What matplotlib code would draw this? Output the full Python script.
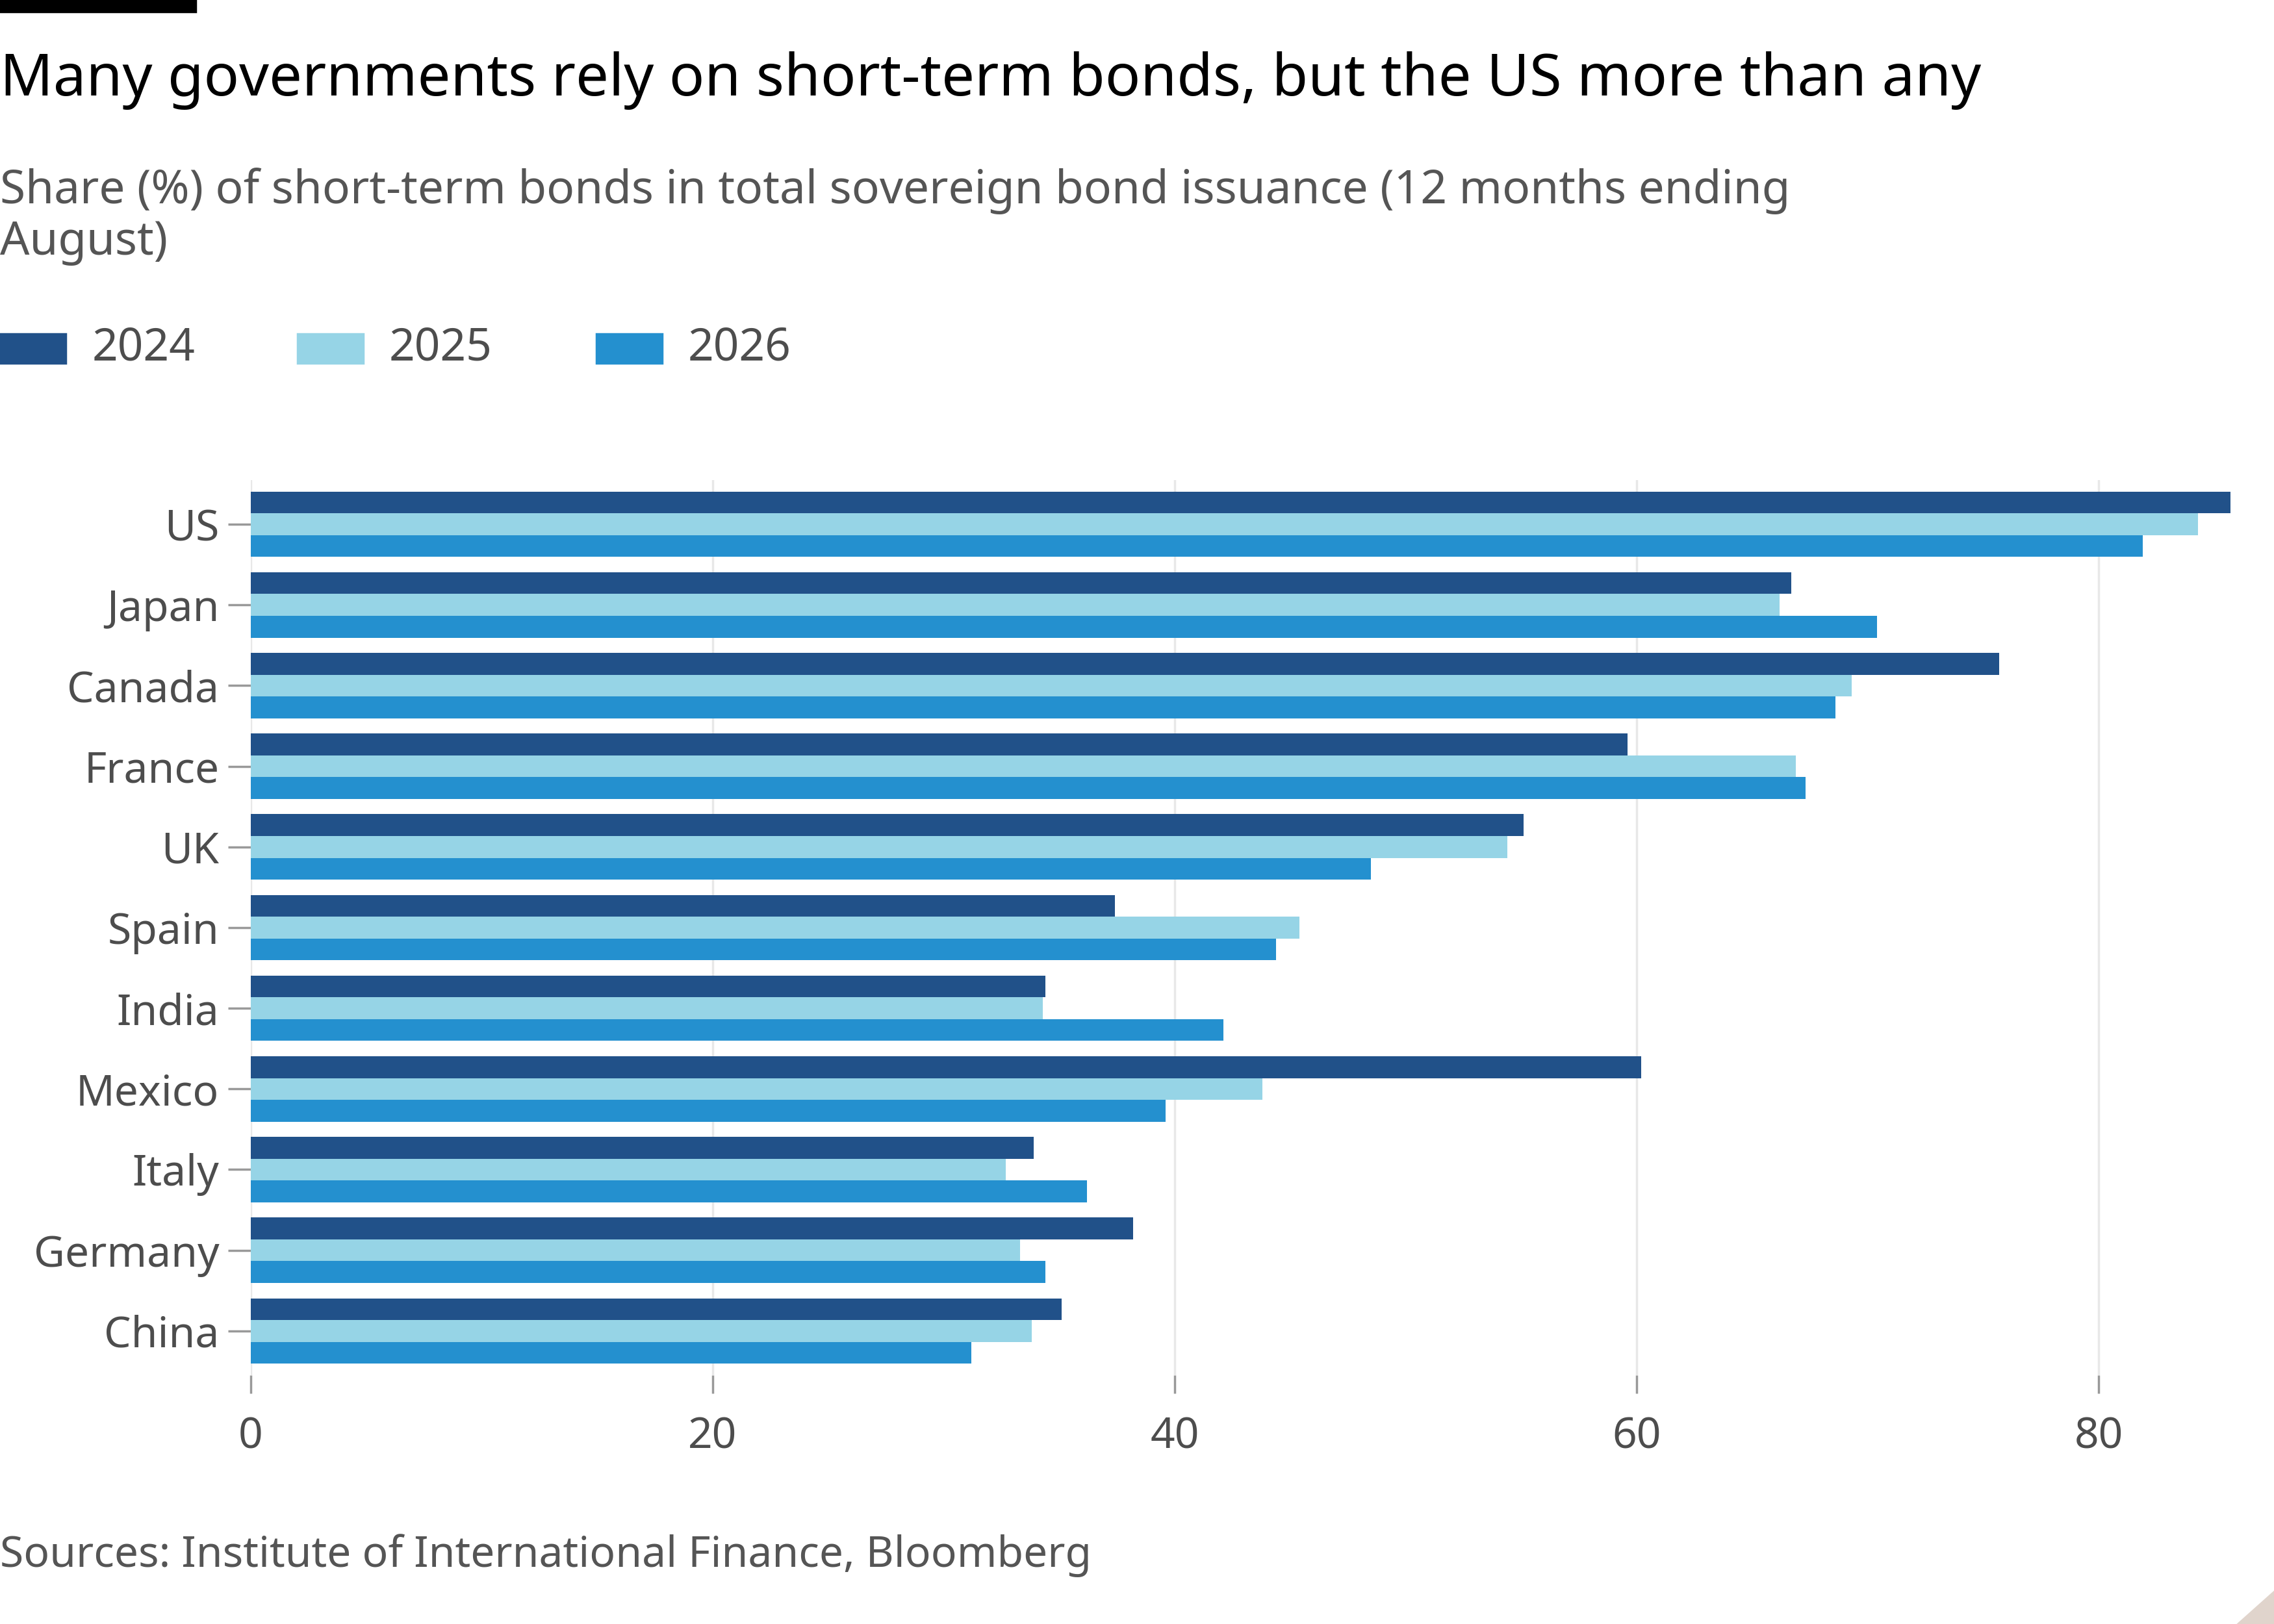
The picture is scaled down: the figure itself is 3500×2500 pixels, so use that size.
import matplotlib
matplotlib.use("Agg")
import matplotlib.pyplot as plt
import numpy as np
from matplotlib.patches import Rectangle, Polygon

plt.rcParams['font.family'] = ['Noto Sans', 'DejaVu Sans']

countries = ["US", "Japan", "Canada", "France", "UK", "Spain", "India", "Mexico", "Italy", "Germany", "China"]
v2024 = [85.7, 66.7, 75.7, 59.6, 55.1, 37.4, 34.4, 60.2, 33.9, 38.2, 35.1]
v2025 = [84.3, 66.2, 69.3, 66.9, 54.4, 45.4, 34.3, 43.8, 32.7, 33.3, 33.8]
v2026 = [81.9, 70.4, 68.6, 67.3, 48.5, 44.4, 42.1, 39.6, 36.2, 34.4, 31.2]
years = ["2024", "2025", "2026"]
colors = ["#215189", "#96d4e6", "#2490cf"]

W, H = 1560, 1110
fig = plt.figure(figsize=(14, 10), dpi=250)
fig.patch.set_facecolor("white")
ax = fig.add_axes([172/W, 1-940/H, (1530-172)/W, (940-328)/H])

y = np.arange(len(countries))
h = 0.27
for i, (vals, c) in enumerate(zip([v2024, v2025, v2026], colors)):
    ax.barh(y + (i-1)*h, vals, height=h, color=c, label=years[i], zorder=3)
ax.set_ylim(len(countries)-0.5+0.05, -0.5-0.05)
ax.set_xlim(0, 85.7)
ax.set_yticks(y)
ax.set_yticklabels(countries, fontsize=19, color="#4d4d4d")
ax.set_xticks([0, 20, 40, 60, 80])
ax.set_xticklabels(["0", "20", "40", "60", "80"], fontsize=19, color="#4d4d4d")
ax.tick_params(axis='y', length=10, width=1, color="#999999", pad=4)
ax.tick_params(axis='x', length=8, width=1, color="#999999", pad=10)
ax.grid(axis='x', color="#e8e8e8", lw=1, zorder=0)
for s in ax.spines.values():
    s.set_visible(False)

fig.patches.append(Rectangle((0, 1-8/H), 134/W, 8/H, transform=fig.transFigure, color="black"))
fig.text(0, 1-55/H, "Many governments rely on short-term bonds, but the US more than any",
         fontsize=26, color="black", va="center")
fig.text(0, 1-148/H, "Share (%) of short-term bonds in total sovereign bond issuance (12 months ending\nAugust)",
         fontsize=20.5, color="#555555", va="center", linespacing=1.15)
lx = [0, 204, 409]
for x0, c, t in zip(lx, colors, years):
    fig.patches.append(Rectangle((x0/W, 1-248/H), 45/W, 20/H, transform=fig.transFigure, color=c))
    fig.text((x0+63)/W, 1-238/H, t, fontsize=20, color="#4d4d4d", va="center")
fig.text(0, 1-1063/H, "Sources: Institute of International Finance, Bloomberg", fontsize=19,
         color="#555555", va="center")
fig.patches.append(Polygon([(1, 1-1088/H), (1, 0), (1535/W, 0)], closed=True,
                           transform=fig.transFigure, color="#e0d4cc"))
fig.savefig("out.png", dpi=250, facecolor="white")
